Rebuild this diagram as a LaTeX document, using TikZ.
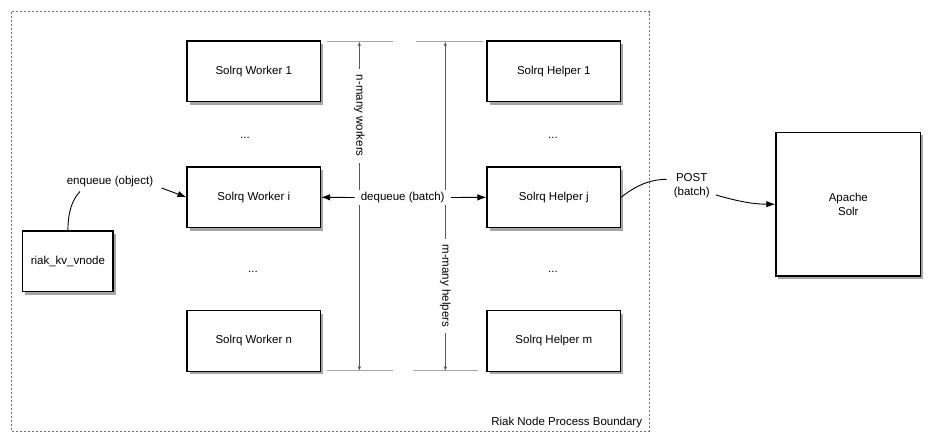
\documentclass[tikz,border=0pt]{standalone}
\usepackage{fontspec}
\setmainfont{Liberation Sans}
\usetikzlibrary{arrows.meta,shadows}
\begin{document}
\begin{tikzpicture}[x=1pt,y=-1pt,
  box/.style={draw=black, line width=1.2pt, fill=white, inner sep=0pt,
    drop shadow={shadow xshift=2.5pt,shadow yshift=-3pt,opacity=0.35,fill=black},
    font=\fontsize{11.5}{14}\selectfont},
  wbox/.style={box, minimum width=133.5pt, minimum height=60.7pt},
  lbl/.style={font=\fontsize{11.5}{14.5}\selectfont, inner sep=2pt},
  dimline/.style={draw=black!35, line width=0.7pt},
  dimarrow/.style={draw=black!65, line width=0.7pt,
    {Latex[length=4pt,width=3.5pt]}-{Latex[length=4pt,width=3.5pt]}},
  conn/.style={draw=black, line width=0.9pt},
  tip/.style={-{Latex[length=9pt,width=6.5pt]}},
  boundary/.style={draw=black!55, line width=0.8pt, dash pattern=on 2pt off 2pt}]
\useasboundingbox (0,0) rectangle (940,445);

% process boundary
\draw[boundary] (11.7,11.7) rectangle (649.3,431);
\node[lbl, anchor=base east] (blabel) at (644.3,425) {Riak Node Process Boundary};

% dimension guides
\coordinate (wt) at (359.3,41.7);
\coordinate (wb) at (359.3,370.7);
\coordinate (ht) at (445.3,41.7);
\coordinate (hb) at (445.3,370.7);
\draw[dimline] (326.7,41.7) -- (392.7,41.7);
\draw[dimline] (416,41.7) -- (482.7,41.7);
\draw[dimline] (326.7,370.7) -- (392.7,370.7);
\draw[dimline] (412.7,370.7) -- (478,370.7);
\draw[dimarrow] (wt) -- (wb);
\draw[dimarrow] (ht) -- (hb);
\node[lbl, fill=white, rotate=-90, inner xsep=6pt] (nw) at (359.3,115.8) {n-many workers};
\node[lbl, fill=white, rotate=-90, inner xsep=6pt] (mh) at (445.3,285.8) {m-many helpers};

% workers
\node[wbox] (w1) at (253.8,71.3) {Solrq Worker 1};
\node[wbox] (wi) at (253.8,197.3) {Solrq Worker i};
\node[wbox] (wn) at (253.8,340.9) {Solrq Worker n};
\node[lbl] (wd1) at (245,137.5) {...};
\node[lbl] (wd2) at (253,271.5) {...};

% helpers
\node[wbox] (h1) at (553.8,71.3) {Solrq Helper 1};
\node[wbox] (hj) at (553.8,197.3) {Solrq Helper j};
\node[wbox] (hm) at (553.8,340.9) {Solrq Helper m};
\node[lbl] (hd1) at (553,137.5) {...};
\node[lbl] (hd2) at (553,271.5) {...};

% vnode and solr
\node[box, minimum width=90.3pt, minimum height=60.7pt] (vnode) at (67.9,261.3) {riak\_kv\_vnode};
\node[box, minimum width=144.7pt, minimum height=143.7pt, align=center] (solr) at (848.3,204.2) {Apache\\Solr};

% dequeue
\node[lbl, fill=white, inner xsep=6pt] (dq) at (402.7,197.5) {dequeue (batch)};
\draw[conn, tip] (dq.west) -- (wi.east);
\draw[conn, tip] (dq.east) -- (hj.west);

% enqueue
\node[lbl] (enq) at (110,181.5) {enqueue (object)};
\coordinate (enqA) at (80,191.5);
\coordinate (enqB) at (161.7,188);
\draw[conn] (vnode.north) .. controls (68,212) and (72,200) .. (enqA);
\draw[conn, tip] (enqB) -- (wi.west);

% POST
\node[lbl, align=center] (post) at (691.7,185.5) {POST\\(batch)};
\coordinate (postA) at (666.7,179.3);
\coordinate (postB) at (716,195);
\draw[conn] (hj.east) .. controls (635,186) and (650,179.3) .. (postA);
\draw[conn, tip] (postB) .. controls (740,202) and (755,204.2) .. (solr.west);
\end{tikzpicture}
\end{document}
